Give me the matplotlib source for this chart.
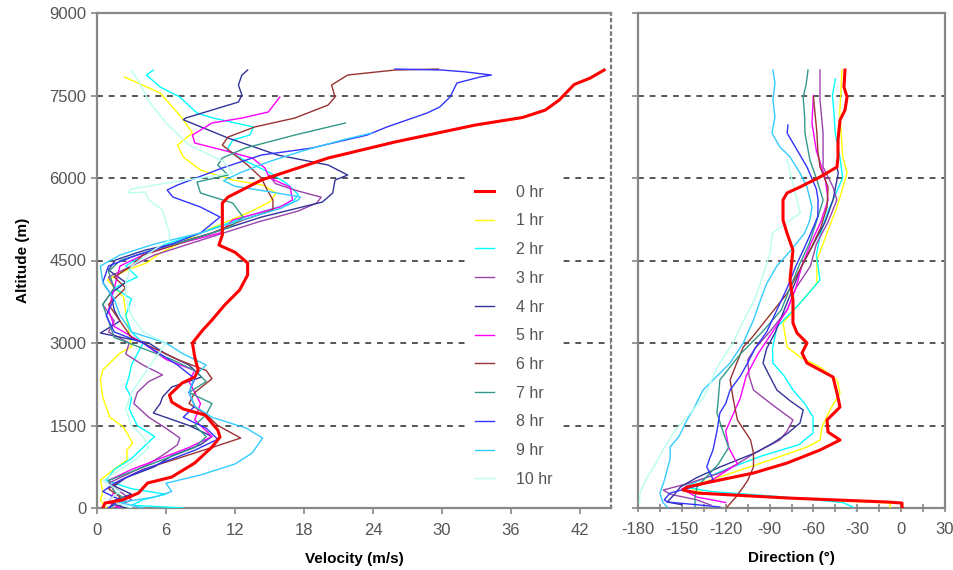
import matplotlib
matplotlib.use("Agg")
import matplotlib.pyplot as plt
from matplotlib.ticker import MultipleLocator

plt.rcParams['font.family'] = ['Liberation Sans', 'DejaVu Sans']
plt.rcParams['axes.unicode_minus'] = False

labels = ['0 hr', '1 hr', '2 hr', '3 hr', '4 hr', '5 hr', '6 hr', '7 hr', '8 hr', '9 hr', '10 hr']
colors = ['#FF0000', '#FFFF00', '#00FFFF', '#9944AA', '#333399', '#FF00FF',
          '#993333', '#339988', '#3333FF', '#33CCFF', '#B8FFF0']

# ---------------- Velocity profiles (altitude m, velocity m/s) ----------------
v0_alt = [0, 90, 145, 272, 454, 563, 818, 1109, 1290, 1418, 1690, 1800, 1927, 2054, 2272, 2381, 2509, 2745,
          3000, 3236, 3418, 3690, 3963, 4236, 4454, 4650, 4781, 4963, 5327, 5545, 5654, 5781, 5963, 6150,
          6363, 6654, 6963, 7100, 7236, 7418, 7550, 7700, 7818, 7963]
v0 = [0.5, 0.7, 2.2, 3.6, 4.4, 6.5, 8.5, 10.0, 10.7, 10.5, 9.4, 7.5, 6.5, 6.3, 7.4, 8.5, 8.8, 8.5,
      8.3, 9.2, 10.0, 11.1, 12.4, 13.1, 13.1, 12.0, 10.6, 10.9, 10.9, 10.9, 11.4, 12.6, 14.3, 17.0,
      20.1, 25.9, 32.9, 37.0, 39.0, 40.2, 40.8, 41.5, 42.9, 44.1]

v1_alt = [0, 145, 300, 509, 690, 872, 1054, 1181, 1472, 1654, 2018, 2327, 2509, 2818, 2927, 3418, 3836, 4145,
          4327, 4454, 4636, 5000, 5181, 5382, 5563, 5727, 5872, 5963, 6145, 6382, 6600, 6818, 7090, 7545, 7836]
v1 = [0.8, 0.3, 0.5, 0.3, 1.4, 2.6, 2.6, 3.1, 2.3, 1.1, 0.5, 0.3, 0.5, 2.0, 3.0, 2.6, 2.3, 0.9,
      2.6, 4.3, 5.5, 9.0, 11.0, 13.3, 15.0, 15.6, 14.4, 11.8, 9.0, 7.5, 7.0, 8.3, 7.4, 5.5, 2.4]

v2_alt = [0, 50, 150, 250, 350, 500, 700, 900, 1100, 1300, 1500, 1800, 2000, 2200, 2400, 2600, 2800, 3000,
          3200, 3500, 3800, 4000, 4200, 4400, 4600, 4800, 5000, 5300, 5550, 5700, 5900, 6100, 6300, 6509,
          6690, 6781, 6927, 7090, 7181, 7472, 7654, 7872, 7963]
v2 = [7.5, 3.0, 4.0, 6.0, 3.0, 0.8, 1.5, 3.0, 4.0, 5.0, 3.5, 2.8, 3.0, 2.5, 2.8, 3.0, 3.5, 4.0,
      3.0, 2.5, 3.0, 1.5, 3.5, 2.5, 4.0, 6.0, 9.0, 13.0, 17.0, 17.5, 16.5, 15.0, 13.0, 11.3,
      11.8, 13.3, 13.6, 10.1, 8.7, 7.2, 5.5, 4.3, 4.9]

v3_alt = [0, 150, 300, 450, 600, 800, 1000, 1150, 1272, 1450, 1650, 1900, 2100, 2300, 2420, 2600, 2800, 3000,
          3200, 3400, 3700, 4000, 4200, 4400, 4600, 4800, 5000, 5200, 5400, 5545, 5650, 5780, 5900, 6050]
v3 = [1.5, 3.0, 2.0, 1.0, 2.5, 4.5, 6.0, 7.0, 7.2, 6.0, 4.5, 3.2, 3.5, 4.5, 5.7, 4.0, 2.5, 2.8,
      1.0, 1.5, 0.5, 1.5, 1.0, 3.0, 5.0, 8.0, 11.0, 14.0, 17.5, 19.1, 19.5, 17.2, 15.5, 15.0]

v4_alt = [0, 100, 250, 400, 550, 750, 950, 1150, 1300, 1500, 1727, 1900, 2018, 2200, 2381, 2600, 2800, 3000,
          3181, 3400, 3600, 3900, 4100, 4327, 4509, 4690, 4818, 5000, 5290, 5563, 5727, 5963, 6054, 6236,
          6418, 6727, 7060, 7090, 7381, 7509, 7690, 7872, 7963]
v4 = [2.5, 1.0, 3.0, 1.5, 2.5, 5.0, 6.5, 9.0, 10.0, 8.0, 4.9, 5.5, 5.7, 6.5, 9.1, 8.0, 6.0, 4.5,
      0.3, 2.0, 1.5, 1.2, 2.5, 1.0, 1.6, 4.2, 7.0, 10.0, 14.3, 19.6, 20.5, 20.7, 21.8, 20.1,
      15.7, 11.4, 7.5, 7.7, 12.3, 12.6, 12.3, 12.6, 13.1]

v5_alt = [0, 100, 300, 500, 700, 900, 1100, 1300, 1600, 1900, 2100, 2300, 2500, 2700, 3000, 3300, 3600, 4000,
          4400, 4600, 4800, 5000, 5236, 5472, 5600, 5836, 6000, 6182, 6363, 6509, 6636, 6781, 7000, 7090,
          7200, 7472]
v5 = [2.0, 1.0, 1.5, 1.0, 3.0, 5.5, 8.0, 10.0, 8.5, 9.0, 8.5, 8.0, 8.5, 6.0, 4.0, 1.5, 1.0, 1.5,
      2.0, 4.0, 7.0, 10.7, 11.8, 15.9, 17.0, 16.8, 15.0, 14.6, 13.5, 10.9, 8.5, 8.3, 10.0, 12.6,
      14.9, 15.9]

v6_alt = [0, 200, 350, 500, 700, 900, 1100, 1272, 1500, 1700, 1900, 2100, 2350, 2500, 2700, 2900, 3100, 3400,
          3700, 4000, 4200, 4400, 4600, 4800, 5000, 5236, 5418, 5600, 5781, 6000, 6236, 6418, 6600, 6745,
          6927, 7090, 7327, 7472, 7690, 7872, 7963, 7981]
v6 = [1.0, 2.0, 1.0, 2.0, 4.0, 7.0, 10.0, 12.5, 10.5, 9.5, 8.0, 8.5, 10.0, 9.5, 7.0, 5.0, 3.0, 2.0,
      1.0, 2.5, 1.5, 3.0, 4.0, 7.0, 10.0, 12.7, 15.3, 15.3, 14.8, 14.3, 13.1, 12.0, 10.9, 11.4,
      13.7, 17.2, 20.1, 20.7, 20.4, 21.8, 25.9, 29.7]

v7_alt = [0, 150, 300, 500, 700, 900, 1100, 1300, 1500, 1700, 1900, 2100, 2300, 2500, 2700, 2900, 3100, 3400,
          3700, 4000, 4300, 4500, 4700, 4900, 5100, 5290, 5545, 5727, 5927, 6054, 6236, 6363, 6545, 6781,
          7000]
v7 = [1.0, 2.5, 1.5, 1.0, 3.5, 6.0, 8.5, 9.5, 8.5, 9.5, 10.0, 8.0, 9.5, 8.5, 6.5, 4.0, 1.5, 1.0,
      0.5, 1.5, 1.0, 2.0, 5.0, 8.5, 11.5, 12.7, 11.8, 9.0, 8.7, 11.4, 10.5, 10.9, 12.9, 17.2,
      21.6]

v8_alt = [0, 150, 300, 450, 650, 850, 1050, 1250, 1450, 1650, 1850, 2100, 2350, 2600, 2800, 3000, 3200, 3500,
          3800, 4100, 4400, 4600, 4800, 5000, 5290, 5472, 5654, 5781, 5872, 6182, 6418, 6545, 6636, 6781,
          6927, 7181, 7290, 7472, 7727, 7836, 7872, 7930, 7963, 7981]
v8 = [1.0, 2.0, 0.5, 1.5, 3.5, 6.0, 8.5, 10.5, 9.5, 7.5, 8.5, 8.0, 8.5, 7.0, 5.5, 4.0, 1.5, 0.8,
      1.5, 0.5, 1.0, 3.5, 6.5, 9.0, 10.7, 9.0, 6.6, 6.1, 7.0, 10.9, 14.3, 18.7, 20.5, 23.5,
      25.2, 28.7, 29.8, 30.7, 31.3, 33.3, 34.3, 32.0, 30.0, 25.9]

v9_alt = [0, 100, 200, 300, 450, 600, 800, 1000, 1272, 1450, 1650, 1850, 2100, 2400, 2600, 2800, 3000, 3200,
          3500, 3800, 4100, 4400, 4600, 4800, 5000, 5200, 5450, 5600, 5654, 5750, 5850, 5950, 6100, 6300,
          6500, 6700, 6818]
v9 = [4.0, 2.0, 5.0, 6.5, 6.0, 9.0, 12.0, 13.5, 14.4, 13.0, 10.0, 8.5, 8.0, 8.5, 9.5, 7.5, 6.0, 3.0,
      2.0, 1.5, 0.5, 0.3, 2.0, 5.0, 9.0, 12.0, 16.0, 17.5, 17.7, 15.0, 12.0, 11.0, 12.5, 15.0,
      18.0, 21.5, 23.9]

v10_alt = [0, 150, 300, 500, 700, 900, 1100, 1300, 1500, 1800, 2100, 2400, 2700, 3000, 3200, 3500, 3800, 4100,
           4400, 4700, 4872, 5000, 5418, 5600, 5745, 5727, 5800, 5909, 6090, 6300, 6600, 7000, 7400, 7800,
           7950]
v10 = [3.0, 1.0, 2.0, 0.5, 2.0, 3.5, 4.5, 4.0, 3.0, 2.5, 3.0, 4.0, 5.0, 6.0, 4.0, 3.0, 2.5, 2.5,
       3.0, 5.0, 6.3, 6.3, 5.7, 4.5, 4.2, 2.7, 3.0, 6.1, 11.8, 11.0, 8.0, 6.0, 4.5, 3.5,
       3.0]

# ---------------- Direction profiles (altitude m, direction deg) ----------------
d0_alt = [7963, 7654, 7472, 7236, 7054, 6690, 6382, 6200, 6018, 5836, 5727, 5600, 5236, 5000, 4690, 4509, 4145,
          3781, 3363, 3181, 3000, 2818, 2636, 2381, 2090, 1836, 1600, 1381, 1236, 1054, 818, 636, 509, 382,
          327, 272, 182, 109, 90, 18, 0]
d0 = [-38.4, -39.1, -37.0, -38.4, -41.8, -43.2, -43.2, -43.9, -55.5, -69.2, -78.1, -80.8, -80.8, -78.1, -74.0,
      -74.7, -76.0, -74.0, -74.0, -71.2, -64.4, -67.8, -64.4, -46.6, -43.9, -41.8, -50.7, -50.0, -41.8, -55.5,
      -78.0, -101.0, -124.0, -146.5, -149.2, -139.6, -78.0, -9.7, 0.6, 0.6, 1.0]

d1_alt = [7963, 7654, 7200, 6800, 6400, 6090, 5836, 5472, 5000, 4509, 4090, 3700, 3363, 2927, 2745, 2563, 2327,
          2090, 1781, 1472, 1236, 1109, 872, 600, 382, 272, 145, 90, 10]
d1 = [-40.5, -41.0, -42.0, -41.0, -40.0, -37.0, -39.8, -43.9, -50.7, -57.6, -57.6, -70.0, -80.8, -78.0, -69.2,
      -55.5, -43.9, -41.8, -48.7, -54.1, -55.5, -64.4, -89.7, -120.0, -146.0, -135.5, -55.5, -7.6, -7.6]

d2_alt = [7800, 7500, 7200, 6800, 6400, 6000, 5700, 5400, 5000, 4600, 4145, 3700, 3290, 2900, 2636, 2400, 2145,
          1900, 1654, 1363, 1150, 950, 700, 500, 382, 300, 200, 100, 18]
d2 = [-45.0, -47.0, -46.0, -45.0, -42.0, -40.0, -45.0, -50.0, -55.0, -58.0, -55.5, -70.0, -85.0, -88.0, -87.7,
      -80.0, -74.0, -66.0, -60.3, -60.3, -70.0, -95.0, -120.0, -138.0, -148.0, -130.0, -80.0, -40.0, -33.0]

d3_alt = [7963, 7418, 6818, 6200, 5836, 5600, 5200, 4800, 4400, 4000, 3600, 3200, 2900, 2690, 2400, 2145, 1909,
          1600, 1400, 1236, 1000, 800, 636, 450, 327, 250, 150, 50]
d3 = [-55.5, -55.5, -53.4, -53.4, -46.6, -44.0, -50.0, -58.0, -62.0, -72.0, -78.0, -90.0, -100.0, -105.0,
      -104.0, -101.0, -89.7, -74.0, -78.0, -83.0, -100.0, -112.0, -124.0, -145.0, -162.7, -158.0, -140.0, -130.0]

d4_alt = [6200, 6090, 5600, 5200, 4800, 4400, 4000, 3600, 3200, 2900, 2636, 2400, 2145, 1950, 1781, 1545, 1350,
          1181, 1000, 745, 550, 382, 250, 109, 60]
d4 = [-44.0, -43.0, -46.6, -52.0, -60.0, -68.0, -74.0, -80.0, -86.0, -92.0, -94.5, -90.0, -85.0, -76.0, -67.0,
      -69.2, -78.0, -87.7, -100.0, -124.0, -140.0, -151.0, -155.0, -160.0, -150.0]

d5_alt = [7500, 7000, 6500, 6000, 5600, 5200, 4800, 4400, 4000, 3600, 3200, 2800, 2400, 2000, 1700, 1400, 1100,
          800, 500, 350, 200, 100]
d5 = [-60.0, -61.0, -58.0, -52.0, -50.0, -55.0, -62.0, -68.0, -72.0, -78.0, -88.0, -98.0, -106.0, -110.0,
      -115.0, -120.0, -118.0, -112.0, -130.0, -150.0, -140.0, -120.0]

d6_alt = [7472, 7200, 6818, 6500, 6200, 5836, 5472, 5100, 4700, 4300, 3900, 3500, 3100, 2927, 2600, 2327, 2000,
          1600, 1236, 1000, 745, 500, 382, 200, 18]
d6 = [-60.0, -59.0, -57.6, -57.0, -55.5, -50.0, -50.7, -55.0, -62.0, -70.0, -78.0, -90.0, -102.0, -108.0,
      -113.0, -117.0, -115.0, -112.0, -103.0, -101.0, -101.0, -105.0, -108.0, -113.0, -119.0]

d7_alt = [7963, 7700, 7472, 7100, 6818, 6327, 5963, 5600, 5200, 4800, 4400, 4000, 3600, 3200, 2800, 2327, 2000,
          1727, 1400, 1100, 800, 600, 382, 200, 18]
d7 = [-63.7, -65.0, -67.0, -66.0, -65.8, -62.4, -57.6, -53.4, -58.0, -63.0, -70.0, -76.0, -82.0, -95.0, -110.0,
      -124.0, -125.0, -126.0, -122.0, -118.0, -125.0, -132.0, -139.6, -141.0, -141.0]

d8_alt = [6963, 6818, 6636, 6200, 5800, 5600, 5300, 5109, 4800, 4400, 4000, 3600, 3200, 2900, 2636, 2400, 2145,
          1900, 1727, 1400, 1054, 900, 745, 600, 509, 400, 272, 150, 109, 60, 18]
d8 = [-77.4, -78.0, -74.0, -64.4, -58.0, -56.8, -57.0, -60.0, -65.0, -72.0, -78.0, -85.0, -92.0, -100.0,
      -105.0, -110.0, -117.0, -120.0, -124.0, -126.0, -128.7, -131.0, -133.0, -130.0, -128.7, -140.0, -158.0,
      -162.0, -160.0, -140.0, -124.0]

d9_alt = [7963, 7727, 7418, 7109, 6818, 6563, 6382, 6090, 5836, 5472, 5236, 5000, 4700, 4400, 4090, 3800, 3418,
          3000, 2636, 2145, 1800, 1600, 1300, 1109, 900, 700, 500, 272, 100, 18]
d9 = [-87.7, -86.3, -87.7, -86.3, -88.4, -82.9, -76.0, -69.2, -64.4, -61.0, -62.4, -66.0, -75.0, -85.0, -91.8,
      -96.0, -101.0, -108.0, -117.0, -135.5, -142.0, -146.5, -152.0, -158.0, -158.0, -160.0, -162.0, -165.0,
      -163.0, -160.0]

d10_alt = [6327, 6000, 5363, 5000, 4600, 4200, 3800, 3400, 3000, 2600, 2300, 2018, 1700, 1400, 1100, 800, 500,
           272, 100]
d10 = [-78.0, -75.0, -69.0, -88.0, -90.0, -95.0, -100.0, -108.0, -115.0, -125.0, -130.0, -135.0, -145.0,
       -155.0, -162.0, -168.0, -175.0, -178.6, -179.0]

vel_alts = [v0_alt, v1_alt, v2_alt, v3_alt, v4_alt, v5_alt, v6_alt, v7_alt, v8_alt, v9_alt, v10_alt]
vels = [v0, v1, v2, v3, v4, v5, v6, v7, v8, v9, v10]
dir_alts = [d0_alt, d1_alt, d2_alt, d3_alt, d4_alt, d5_alt, d6_alt, d7_alt, d8_alt, d9_alt, d10_alt]
dirs = [d0, d1, d2, d3, d4, d5, d6, d7, d8, d9, d10]

alt_ticks = [0, 1500, 3000, 4500, 6000, 7500, 9000]
vel_ticks = [0, 6, 12, 18, 24, 30, 36, 42]
dir_ticks = [-180, -150, -120, -90, -60, -30, 0, 30]

spine_c = '#888888'
tick_c = '#555555'
grid_c = '#555555'

fig = plt.figure(figsize=(9.54, 5.7), dpi=100)
ax1 = fig.add_axes([97 / 954, 1 - 508 / 570, 514 / 954, 495 / 570])
ax2 = fig.add_axes([638 / 954, 1 - 508 / 570, 307 / 954, 495 / 570])

handles = []
for i in range(11):
    lw = 2.2 if i == 0 else 1.0
    z = 4 if i == 0 else 3
    h, = ax1.plot(vels[i], vel_alts[i], color=colors[i], lw=lw, zorder=z, label=labels[i])
    handles.append(h)
    ax2.plot(dirs[i], dir_alts[i], color=colors[i], lw=lw, zorder=z)

for ax in (ax1, ax2):
    for a in alt_ticks[1:-1]:
        ax.axhline(a, color=grid_c, lw=1.4, ls=(0, (3, 3)), zorder=2)
    ax.set_ylim(0, 9000)
    ax.set_yticks(alt_ticks)
    for s in ax.spines.values():
        s.set_color(spine_c)
        s.set_linewidth(1.6)
    ax.tick_params(axis='both', colors=spine_c, labelcolor=tick_c, labelsize=12, length=4, width=1.2)
    ax.tick_params(axis='x', pad=7)

ax1.set_xlim(0, 44.7)
ax1.set_xticks(vel_ticks)
ax1.spines['right'].set_linestyle((0, (1, 2)))
ax1.spines['right'].set_color('#777777')
ax1.set_xlabel('Velocity (m/s)', fontsize=11, fontweight='bold', labelpad=10)
ax1.set_ylabel('Altitude (m)', fontsize=11, fontweight='bold', labelpad=14)

ax2.set_xlim(-180, 30)
ax2.set_xticks(dir_ticks)
ax2.xaxis.set_minor_locator(MultipleLocator(15))
ax2.tick_params(axis='x', which='both', direction='inout', length=6)
ax2.tick_params(axis='x', which='minor', colors=spine_c, width=1.2)
ax2.set_yticklabels([])
ax2.set_xlabel('Direction (°)', fontsize=11, fontweight='bold', labelpad=10)

leg = ax1.legend(handles=handles, loc='upper left', bbox_to_anchor=((465 - 97) / 514, (508 - 175) / 495),
                 borderaxespad=0, fontsize=11.5, frameon=True, handlelength=1.2, handletextpad=1.4,
                 labelspacing=0.86, borderpad=0.6)
leg.get_frame().set_facecolor('white')
leg.get_frame().set_edgecolor('none')
leg.get_frame().set_alpha(1.0)
for t in leg.get_texts():
    t.set_color(tick_c)
leg.set_zorder(6)

fig.savefig('out.png', dpi=100)
